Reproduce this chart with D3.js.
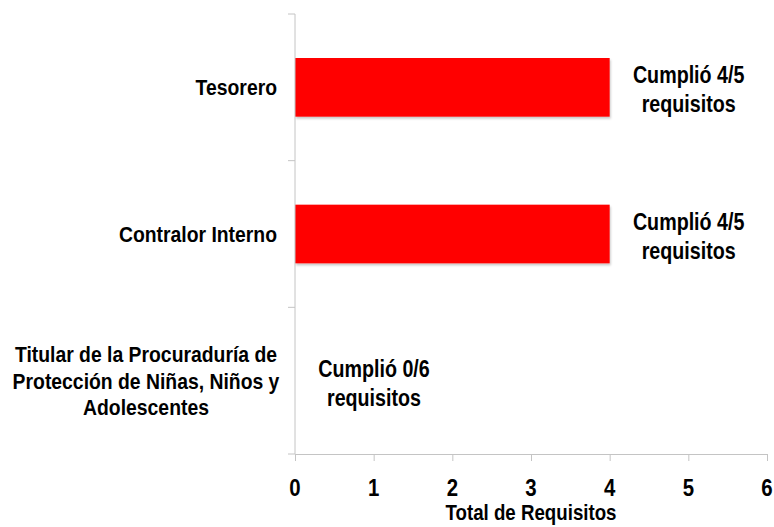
<!DOCTYPE html>
<html>
<head>
<meta charset="utf-8">
<script src="https://cdn.jsdelivr.net/npm/d3@7"></script>
<style>
  html, body { margin: 0; padding: 0; background: #fff; }
  svg { display: block; }
  text { font-family: "Liberation Sans", Arial, sans-serif; font-weight: bold; fill: #000; }
</style>
</head>
<body>
<svg id="chart" width="774" height="527"></svg>
<script>
// Puestos evaluados (de arriba hacia abajo)
const categories = ["Tesorero", "Contralor Interno", "Titular de la Procuraduría de Protección de Niñas, Niños y Adolescentes"];
const categoryLines = [["Tesorero"], ["Contralor Interno"], ["Titular de la Procuraduría de", "Protección de Niñas, Niños y", "Adolescentes"]];
// Requisitos cumplidos y requisitos totales por puesto
const cumplidos = [4, 4, 0];
const totales = [5, 5, 6];
const xTicks = [0, 1, 2, 3, 4, 5, 6];
const xTitle = "Total de Requisitos";

const svg = d3.select("#chart");
const margin = { left: 295, right: 7, top: 14, bottom: 73 };
const W = 774, H = 527;

const x = d3.scaleLinear().domain([0, 6]).range([margin.left, W - margin.right]);
const y = d3.scaleBand().domain(categories).range([margin.top, H - margin.bottom]).paddingInner(0.6).paddingOuter(0.3);

const axisColor = "#c4c4c4";

// Texto condensado: se escala horizontalmente alrededor de su punto de anclaje
function condensed(parent, px, py, size, sx, anchor) {
  return parent.append("g")
    .attr("transform", `translate(${px},${py}) scale(${sx},1)`)
    .append("text")
    .attr("text-anchor", anchor)
    .style("font-size", size + "px");
}

// Sombra suave de las barras
const defs = svg.append("defs");
const f = defs.append("filter").attr("id", "sh").attr("x", "-5%").attr("y", "-20%").attr("width", "110%").attr("height", "150%");
f.append("feDropShadow").attr("dx", 1).attr("dy", 2).attr("stdDeviation", 1).attr("flood-color", "#000").attr("flood-opacity", 0.22);

// Barras
svg.append("g").selectAll("rect").data(categories).join("rect")
  .attr("x", x(0))
  .attr("y", d => y(d))
  .attr("width", (d, i) => x(cumplidos[i]) - x(0))
  .attr("height", y.bandwidth())
  .attr("fill", "#ff0000")
  .attr("filter", "url(#sh)")
  .style("display", (d, i) => cumplidos[i] > 0 ? null : "none");

// Eje vertical con marcas entre categorías
const yTop = margin.top, yBottom = H - margin.bottom;
const step = (yBottom - yTop) / categories.length;
const gy = svg.append("g");
gy.append("line").attr("x1", x(0)).attr("x2", x(0)).attr("y1", yTop).attr("y2", yBottom).attr("stroke", axisColor);
d3.range(categories.length + 1).forEach(i => {
  gy.append("line").attr("x1", x(0) - 7).attr("x2", x(0)).attr("y1", yTop + i * step).attr("y2", yTop + i * step).attr("stroke", axisColor);
});

// Eje horizontal (las etiquetas se dibujan aparte, condensadas)
const xAxis = d3.axisBottom(x).tickValues(xTicks).tickSize(7).tickFormat("");
const gx = svg.append("g").attr("transform", `translate(0,${yBottom})`).call(xAxis);
gx.select(".domain").attr("stroke", axisColor);
gx.selectAll(".tick line").attr("stroke", axisColor);
xTicks.forEach(v => {
  condensed(svg, x(v), 496, 24, 0.85, "middle").text(d3.format("d")(v));
});

// Título del eje
condensed(svg, (x(0) + x(6)) / 2, 520, 22, 0.85, "middle").text(xTitle);

// Etiquetas de categorías
categories.forEach((c, i) => {
  const lines = categoryLines[i];
  const cy = y(c) + y.bandwidth() / 2;
  const lh = 26.5;
  const multi = lines.length > 1;
  const t = condensed(svg, multi ? 146 : 277, cy + 8, 22, 0.88, multi ? "middle" : "end");
  lines.forEach((l, j) => {
    t.append("tspan")
      .attr("x", 0)
      .attr("y", (j - (lines.length - 1) / 2) * lh)
      .text(l);
  });
});

// Etiquetas de valor
categories.forEach((c, i) => {
  const cy = y(c) + y.bandwidth() / 2;
  const cx = x(cumplidos[i]) + 79;
  const t = condensed(svg, cx, cy, 24, 0.82, "middle");
  t.append("tspan").attr("x", 0).attr("y", -4).text(`Cumplió ${cumplidos[i]}/${totales[i]}`);
  t.append("tspan").attr("x", 0).attr("y", 25).text("requisitos");
});
</script>
</body>
</html>
